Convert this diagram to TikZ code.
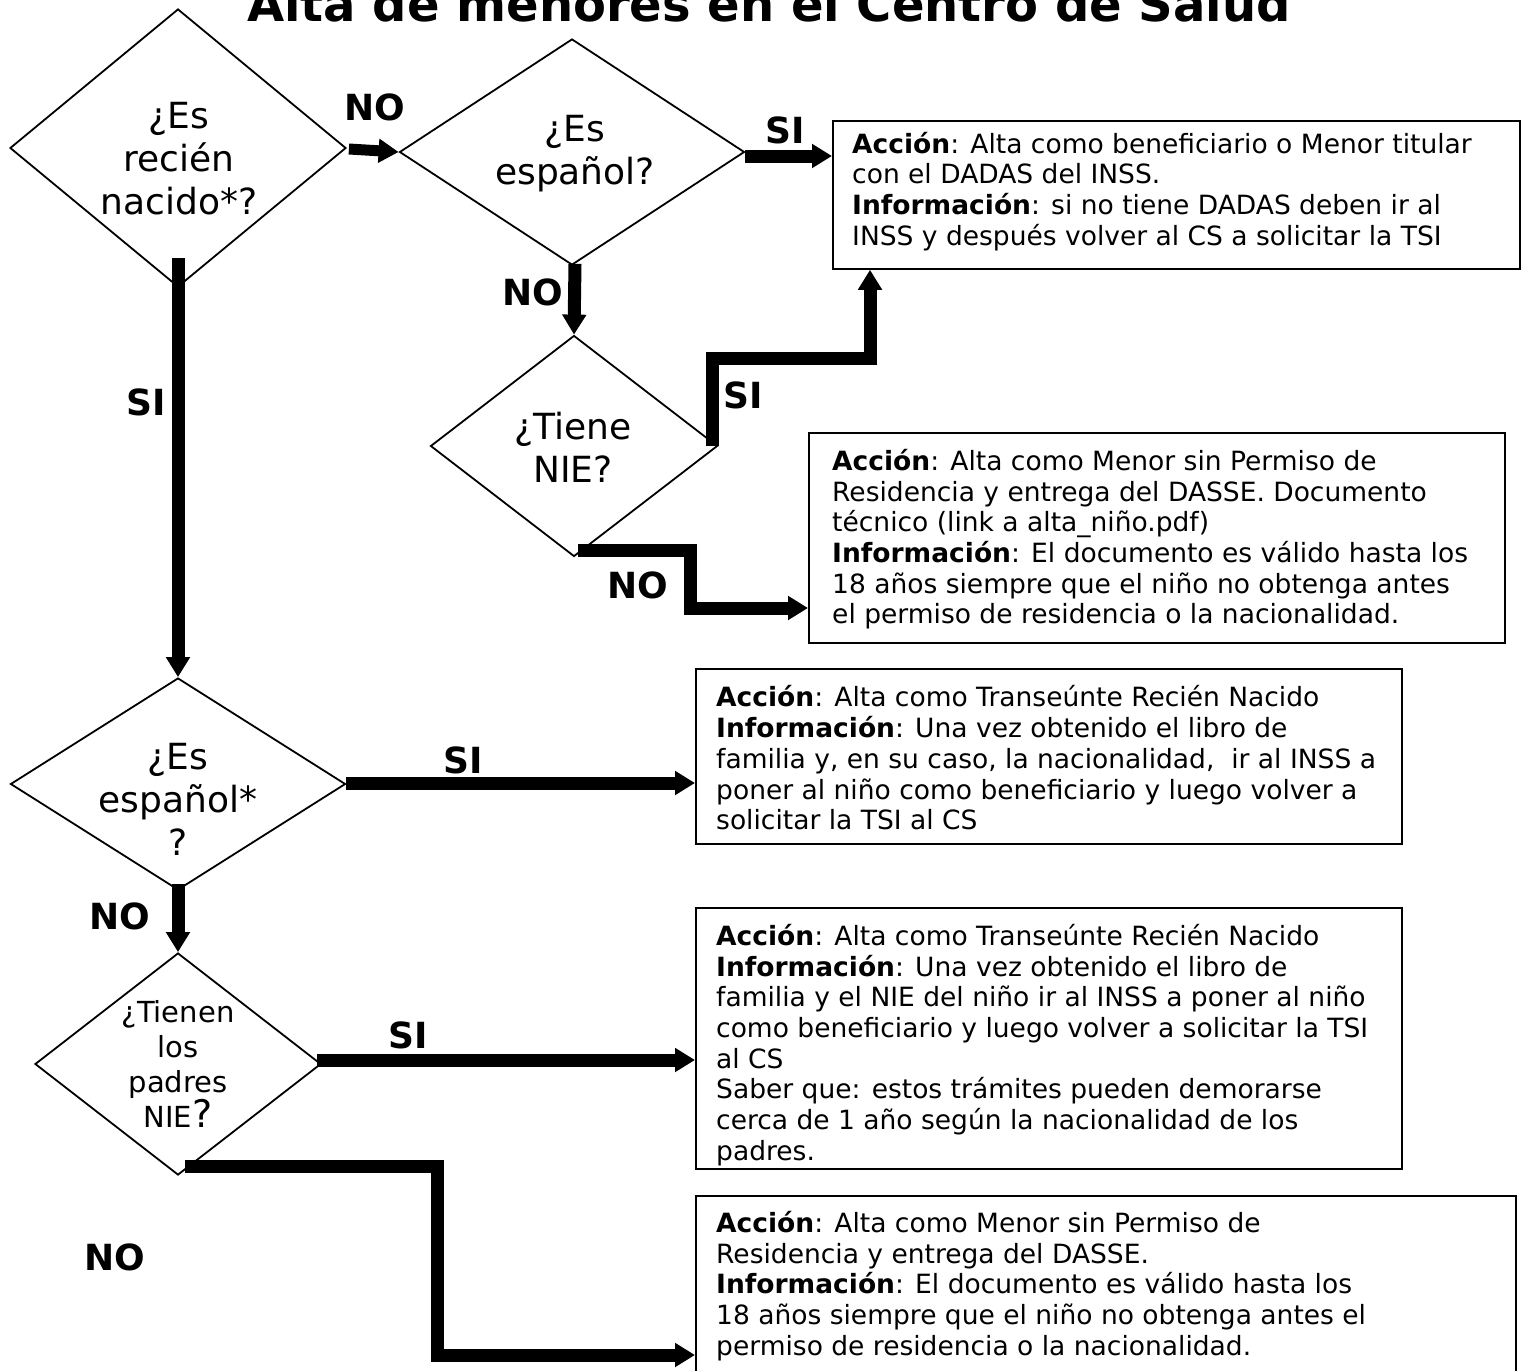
\documentclass[tikz,border=0pt]{standalone}
\usepackage{fontspec}
\setmainfont{DejaVu Sans}
\usetikzlibrary{shapes.geometric,arrows.meta,calc}
\begin{document}
\begin{tikzpicture}[x=1pt,y=-1pt,
  dia/.style={draw, shape=diamond, line width=1.8pt, inner sep=0pt},
  box/.style={draw, rectangle, line width=1.8pt, inner sep=0pt, anchor=north west},
  dtext/.style={align=center, inner sep=0pt, font=\fontsize{36}{43}\selectfont},
  btext/.style={align=left, inner sep=0pt, anchor=west, font=\fontsize{26.5}{30.7}\selectfont},
  lbl/.style={inner sep=0pt, font=\fontsize{36}{40}\selectfont\bfseries},
  arr/.style={line width=13pt, line join=miter, -{Triangle[width=23pt,length=20pt]}}]
\useasboundingbox (0,0) rectangle (1527,1371);
% title
\node[anchor=base, inner sep=0pt, font=\fontsize{48}{56}\selectfont\bfseries] (title) at (769,21) {Alta de menores en el Centro de Salud};
% diamonds
\node[dia, minimum width=336pt, minimum height=278pt] (d1) at (178,148) {};
\node[dtext] (d1t) at (179,159) {¿Es\\recién\\nacido*?};
\node[dia, minimum width=345pt, minimum height=226pt] (d2) at (572,152) {};
\node[dtext] (d2t) at (575,154) {¿Es\\español?};
\node[dia, minimum width=287pt, minimum height=221pt] (d3) at (574,446) {};
\node[dtext] (d3t) at (573,447) {¿Tiene\\NIE?};
\node[dia, minimum width=335pt, minimum height=212pt] (d4) at (178,784) {};
\node[dtext] (d4t) at (178,799) {¿Es\\español*\\?};
\node[dia, minimum width=286pt, minimum height=222pt] (d5) at (178,1064) {};
\node[dtext, font=\fontsize{29}{35}\selectfont] (d5t) at (178,1064) {¿Tienen\\los\\padres\\NIE{\fontsize{38}{35}\selectfont ?}};
% boxes
\node[box, minimum width=687pt, minimum height=148pt] (b1) at (832,120) {};
\node[btext] (b1t) at ($(b1.west)+(20,-3.5)$) {\textbf{Acción}: Alta como beneficiario o Menor titular\\con el DADAS del INSS.\\\textbf{Información}: si no tiene DADAS deben ir al\\INSS y después volver al CS a solicitar la TSI};
\node[box, minimum width=696pt, minimum height=210pt] (b2) at (808,432) {};
\node[btext] (b2t) at ($(b2.west)+(24,1.5)$) {\textbf{Acción}: Alta como Menor sin Permiso de\\Residencia y entrega del DASSE. Documento\\técnico (link a alta\_niño.pdf)\\\textbf{Información}: El documento es válido hasta los\\18 años siempre que el niño no obtenga antes\\el permiso de residencia o la nacionalidad.};
\node[box, minimum width=706pt, minimum height=175pt] (b3) at (695,668) {};
\node[btext] (b3t) at ($(b3.west)+(21,1.5)$) {\textbf{Acción}: Alta como Transeúnte Recién Nacido\\\textbf{Información}: Una vez obtenido el libro de\\familia y, en su caso, la nacionalidad,\ \ ir al INSS a\\poner al niño como beneficiario y luego volver a\\solicitar la TSI al CS};
\node[box, minimum width=706pt, minimum height=261pt] (b4) at (695,907) {};
\node[btext] (b4t) at ($(b4.west)+(21,6.5)$) {\textbf{Acción}: Alta como Transeúnte Recién Nacido\\\textbf{Información}: Una vez obtenido el libro de\\familia y el NIE del niño ir al INSS a poner al niño\\como beneficiario y luego volver a solicitar la TSI\\al CS\\Saber que: estos trámites pueden demorarse\\cerca de 1 año según la nacionalidad de los\\padres.};
\node[box, minimum width=820pt, minimum height=195pt] (b5) at (695,1195) {};
\node[btext] (b5t) at (716,1286) {\textbf{Acción}: Alta como Menor sin Permiso de\\Residencia y entrega del DASSE.\\\textbf{Información}: El documento es válido hasta los\\18 años siempre que el niño no obtenga antes el\\permiso de residencia o la nacionalidad.};
% connector start points
\coordinate (s2) at ($(d2.east)+(0,4)$);
\coordinate (s7) at ($(d4.east)+(0,-1)$);
\coordinate (s9) at ($(d5.east)+(-5,-4)$);
% connectors
\draw[arr, line width=11pt] ($(d1.east)+(2,1)$) -- (d2.west);
\draw[arr] (s2) -- (s2 -| b1.west);
\draw[arr] ($(d2.south)+(3,-2)$) -- (d3.north);
\coordinate (c3) at (870,358);
\draw[arr] ($(d3.east)+(-6,0)$) |- (c3) -- (c3 |- b1.south);
\coordinate (c5) at (690,608);
\draw[arr] ($(d3.south)+(4,-7)$) -| (c5) -- (c5 -| b2.west);
\draw[arr] ($(d1.south)+(0,-30)$) -- (d4.north);
\draw[arr] (s7) -- (s7 -| b3.west);
\draw[arr] ($(d4.south)+(0,-7)$) -- (d5.north);
\draw[arr] (s9) -- (s9 -| b4.west);
\coordinate (c10) at (437,1355);
\draw[arr] ($(d5.south)+(7,-9)$) -| (c10) -- (c10 -| b5.west);
% labels
\node[lbl] (l1) at (375,107) {NO};
\node[lbl] (l2) at (785,130) {SI};
\node[lbl] (l3) at (533,292) {NO};
\node[lbl] (l4) at (743,395) {SI};
\node[lbl] (l5) at (638,585) {NO};
\node[lbl] (l6) at (146,402) {SI};
\node[lbl] (l7) at (463,760) {SI};
\node[lbl] (l8) at (120,916) {NO};
\node[lbl] (l9) at (408,1035) {SI};
\node[lbl] (l10) at (115,1257) {NO};
\end{tikzpicture}
\end{document}
